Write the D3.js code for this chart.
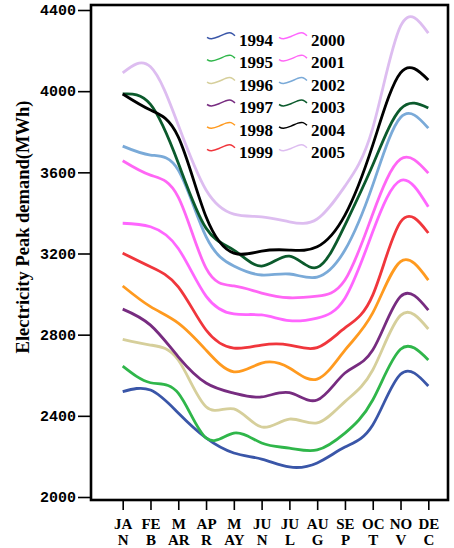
<!DOCTYPE html>
<html>
<head>
<meta charset="utf-8">
<script src="https://cdn.jsdelivr.net/npm/d3@7"></script>
<style>
  body { margin: 0; background: #fff; }
  svg { display: block; }
</style>
</head>
<body>
<div id="chart"></div>
<script>
// months and the two-line tick labels under the x axis
var months = ["JAN","FEB","MAR","APR","MAY","JUN","JUL","AUG","SEP","OCT","NOV","DEC"]
var labelTop = ["JA","FE","M","AP","M","JU","JU","AU","SE","OC","NO","DE"]
var labelBottom = ["N","B","AR","R","AY","N","L","G","P","T","V","C"]

var years = ["1994","1995","1996","1997","1998","1999","2000","2001","2002","2003","2004","2005"]
var colors = ["#3a56a8","#2fb64a","#d6cf9b","#772c80","#ff9a1f","#f0363c",
              "#ff66ff","#ff66f5","#7aaad8","#0b5a2c","#000000","#ddbdf0"]

var yTicks = [2000, 2400, 2800, 3200, 3600, 4000, 4400]

// monthly peak demand (MWh)
var v1994 = [2519, 2527, 2414, 2291, 2217, 2187, 2148, 2168, 2246, 2355, 2605, 2547]
var v1995 = [2645, 2563, 2512, 2291, 2315, 2266, 2241, 2232, 2315, 2478, 2728, 2675]
var v1996 = [2777, 2749, 2675, 2445, 2434, 2345, 2384, 2365, 2470, 2626, 2895, 2828]
var v1997 = [2926, 2847, 2691, 2562, 2512, 2493, 2514, 2478, 2611, 2724, 2988, 2921]
var v1998 = [3040, 2938, 2857, 2724, 2617, 2660, 2636, 2581, 2724, 2907, 3160, 3069]
var v1999 = [3202, 3135, 3036, 2823, 2734, 2749, 2749, 2736, 2833, 2995, 3355, 3301]
var v2000 = [3349, 3332, 3225, 2990, 2902, 2897, 2869, 2882, 2980, 3307, 3560, 3430]
var v2001 = [3657, 3586, 3478, 3128, 3040, 3005, 2982, 2990, 3069, 3395, 3665, 3596]
var v2002 = [3729, 3685, 3611, 3283, 3138, 3094, 3099, 3084, 3217, 3537, 3870, 3818]
var v2003 = [3986, 3935, 3646, 3325, 3217, 3138, 3187, 3132, 3340, 3636, 3912, 3917]
var v2004 = [3986, 3907, 3775, 3381, 3202, 3212, 3217, 3233, 3389, 3734, 4090, 4055]
var v2005 = [4090, 4120, 3833, 3513, 3394, 3381, 3356, 3370, 3532, 3818, 4320, 4286]

var allValues = [v1994, v1995, v1996, v1997, v1998, v1999, v2000, v2001, v2002, v2003, v2004, v2005]

var width = 454,
    height = 548

var svg = d3.select("#chart")
  .append("svg")
    .attr("width", width)
    .attr("height", height)

var serif = "'Liberation Serif', 'Times New Roman', serif"

var x = d3.scalePoint()
  .domain(months)
  .range([122.7, 428.3])

var y = d3.scaleLinear()
  .domain([2000, 4400])
  .range([497, 10])

// y axis: monospace labels, ticks sticking out on the left
var yAxis = svg.append("g")
  .attr("transform", "translate(90,0)")
  .call(d3.axisLeft(y).tickValues(yTicks).tickSize(12).tickPadding(2).tickFormat(d3.format("d")))
yAxis.select(".domain").remove()
yAxis.selectAll(".tick line").attr("stroke", "#000").attr("stroke-width", 1.6)
yAxis.selectAll(".tick text")
  .style("font-family", "'Liberation Mono', 'Courier New', monospace")
  .style("font-weight", "bold")
  .style("font-size", "15px")
  .attr("fill", "#000")

// x axis: ticks below the frame, labels split on two lines
var xAxis = svg.append("g")
  .attr("transform", "translate(0,501)")
  .call(d3.axisBottom(x).tickSize(9).tickFormat(""))
xAxis.select(".domain").remove()
xAxis.selectAll(".tick line").attr("stroke", "#000").attr("stroke-width", 1.6)
xAxis.selectAll(".tick text").remove()
xAxis.selectAll(".tick").each(function(d, i) {
  var t = d3.select(this).append("text")
    .attr("text-anchor", "middle")
    .attr("fill", "#000")
    .style("font-family", serif)
    .style("font-weight", "bold")
    .style("font-size", "15px")
  t.append("tspan").attr("x", 0).attr("y", 27.5).text(labelTop[i])
  t.append("tspan").attr("x", 0).attr("y", 43.5).text(labelBottom[i])
})

// frame round the plot
svg.append("rect")
  .attr("x", 91)
  .attr("y", 5)
  .attr("width", 357)
  .attr("height", 495)
  .attr("fill", "none")
  .attr("stroke", "#000")
  .attr("stroke-width", 2.6)

// y title
svg.append("text")
  .attr("transform", "translate(29,227) rotate(-90)")
  .attr("text-anchor", "middle")
  .style("font-family", serif)
  .style("font-weight", "bold")
  .style("font-size", "18.5px")
  .text("Electricity Peak demand(MWh)")

// smoothed lines
var line = d3.line()
  .x(function(d, i) { return x(months[i]) })
  .y(function(d) { return y(d) })
  .curve(d3.curveNatural)

svg.selectAll("allLines")
  .data(allValues)
  .enter()
  .append("path")
    .attr("d", line)
    .attr("fill", "none")
    .attr("stroke", function(d, i) { return colors[i] })
    .attr("stroke-width", 2.8)

// legend: two columns of six, with a small wave as the sample
var wave = d3.line().curve(d3.curveNatural)
var wavePts = [[0, 1.3], [4.5, 2.7], [12, 0.5], [19, -2.5], [24, -3], [28, -0.3]]

var legend = svg.selectAll("allLegend")
  .data(years)
  .enter()
  .append("g")
    .attr("transform", function(d, i) {
      var col = Math.floor(i / 6), row = i % 6
      return "translate(" + (207 + col * 72) + "," + (40 + row * 22.4) + ")"
    })

legend.append("path")
  .attr("d", function() { return wave(wavePts.map(function(p) { return [p[0], p[1] - 4] })) })
  .attr("fill", "none")
  .attr("stroke", function(d, i) { return colors[i] })
  .attr("stroke-width", 1.5)

legend.append("text")
  .attr("x", 32)
  .attr("y", 6)
  .style("font-family", serif)
  .style("font-weight", "bold")
  .style("font-size", "17px")
  .text(function(d) { return d })
</script>
</body>
</html>
